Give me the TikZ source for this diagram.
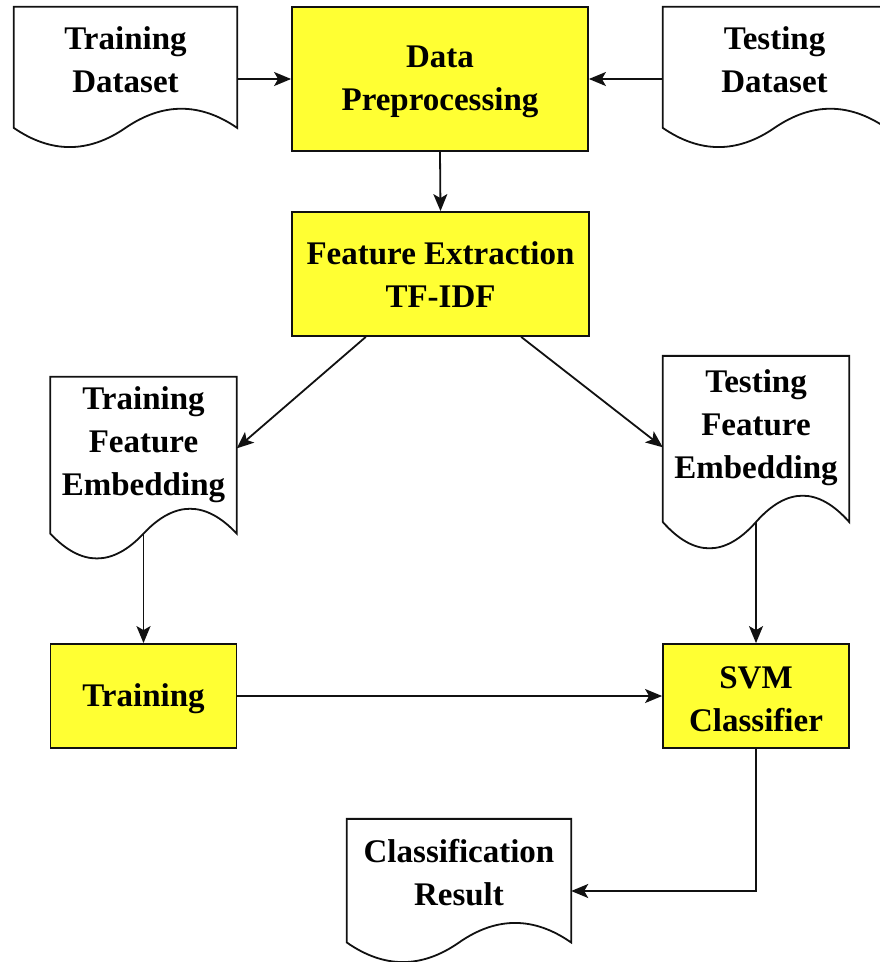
\documentclass[tikz,border=0pt]{standalone}
\usepackage{fontspec}
\setmainfont{Liberation Serif}
\usetikzlibrary{arrows.meta,calc}
\definecolor{boxyellow}{HTML}{FFFF33}
\definecolor{lncol}{HTML}{111111}
\tikzset{
  ln/.style={draw=lncol, line width=1.8pt},
  arr/.style={ln, -{Stealth[length=17pt,width=14pt,inset=4pt]}},
  txt/.style={font=\fontsize{33}{43}\selectfont\bfseries, align=center, inner sep=0pt},
  lbl/.style={label={[txt, yshift=-3pt]center:{#1}}},
  procbox/.style={rectangle, ln, fill=boxyellow, inner sep=0pt},
  docbox/.style={rectangle, inner sep=0pt}
}
% #1 node name, #2 wave depth dy (pt)
\newcommand\docwave[2]{%
  \draw[ln, line join=miter] let \p1=(#1.north west), \p2=(#1.south east) in
    (\x1,\y1) -- (\x2,\y1) -- (\x2,{\y2-0.5*#2pt})
    .. controls ({\x2-(\x2-\x1)/6},{\y2+0.1*#2pt}) and ({(\x1+\x2)/2+(\x2-\x1)/6},{\y2+0.1*#2pt}) .. ({(\x1+\x2)/2},{\y2-0.5*#2pt})
    .. controls ({(\x1+\x2)/2-(\x2-\x1)/6},{\y2-1.1*#2pt}) and ({\x1+(\x2-\x1)/6},{\y2-1.1*#2pt}) .. (\x1,{\y2-0.5*#2pt})
    -- cycle;
  \coordinate (#1-b) at ($(#1.south)+(0,#2/2)$);
}
\begin{document}
\begin{tikzpicture}[x=1pt,y=-1pt]
\fill[white] (0,0) rectangle (879,962);
\useasboundingbox (0,0) rectangle (879,962);

% documents
\node[docbox, minimum width=223pt, minimum height=99.4pt, lbl={Training\\Dataset}] (td) at (125.5,56.7) {};
\docwave{td}{42.6}
\node[docbox, minimum width=223pt, minimum height=99.4pt, lbl={Testing\\Dataset}] (ted) at (774.5,56.7) {};
\docwave{ted}{42.6}
\node[docbox, minimum width=186pt, minimum height=128.8pt, lbl={Training\\Feature\\Embedding}] (tfe) at (143.5,441.4) {};
\docwave{tfe}{55.2}
\node[docbox, minimum width=186pt, minimum height=136.5pt, lbl={Testing\\Feature\\Embedding}] (tefe) at (756,424.3) {};
\docwave{tefe}{58.5}
\node[docbox, minimum width=224pt, minimum height=101.5pt, lbl={Classification\\Result}] (cr) at (459,869.8) {};
\docwave{cr}{43.5}

% process boxes
\node[procbox, minimum width=296pt, minimum height=144pt, lbl={Data\\Preprocessing}] (dp) at (440,79) {};
\node[procbox, minimum width=297pt, minimum height=124pt, label={[txt, yshift=-1pt]center:{Feature Extraction\\TF-IDF}}] (fe) at (440.5,274) {};
\node[procbox, minimum width=186pt, minimum height=104pt, lbl={Training}] (tr) at (143.5,696) {};
\node[procbox, minimum width=186pt, minimum height=104pt, lbl={SVM\\Classifier}] (svm) at (756,696) {};

% connectors
\draw[arr] (td.east |- dp.west) -- (dp.west);
\draw[arr] (ted.west |- dp.east) -- (dp.east);
\draw[arr] (dp.south) -- (fe.north);
\draw[arr] ($(fe.south west)!0.25!(fe.south east)$) -- ([yshift=-7pt]tfe.east);
\draw[arr] ($(fe.south west)!0.77!(fe.south east)$) -- ([yshift=-23pt]tefe.west);
\draw[arr] (tfe-b) -- (tr.north);
\draw[arr] (tefe-b) -- (svm.north);
\draw[arr] (tr.east) -- (svm.west);
\coordinate (turn) at (svm.south |- 0,891);
\draw[arr] (svm.south) -- (turn) -- (turn -| cr.east);
\end{tikzpicture}
\end{document}
